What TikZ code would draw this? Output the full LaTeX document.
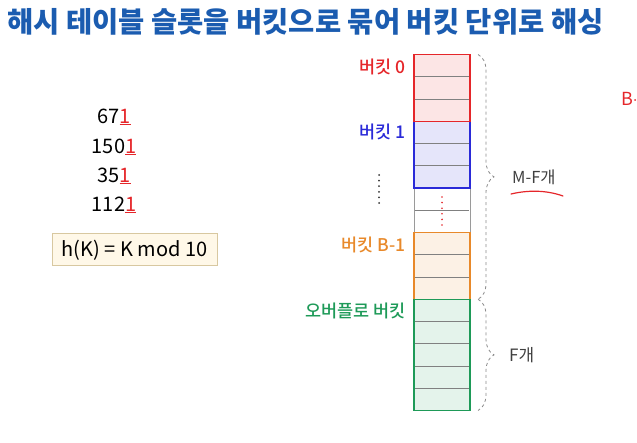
\documentclass[tikz,border=0pt]{standalone}
\usepackage{fontspec}
\setmainfont{Noto Sans CJK KR}
\newfontfamily\labelfont{Noto Sans CJK KR Medium}
\usetikzlibrary{positioning,calc,decorations.pathreplacing}
\definecolor{titleblue}{HTML}{1B5CB0}
\definecolor{bred}{HTML}{E5262A}
\definecolor{bblue}{HTML}{2A2AD8}
\definecolor{borange}{HTML}{E8892A}
\definecolor{bgreen}{HTML}{1E9A58}
\definecolor{bgray}{HTML}{9A9A9A}
\definecolor{slotline}{HTML}{808080}
\definecolor{boxedge}{HTML}{D8C8A0}
\definecolor{boxfill}{HTML}{FFF8E8}
\definecolor{braceg}{HTML}{8A8A8A}
\tikzset{
	bucket/.style 2 args={draw=#1,fill=#1!12,line width=1.3pt,minimum width=56pt,minimum height={#2*22.25pt},inner sep=0pt,outer sep=0pt},
	blabel/.style={font=\fontsize{17.5}{20}\labelfont,anchor=east,inner sep=0pt},
	keytext/.style={font=\fontsize{20}{23}\selectfont,inner sep=0pt},
	cnt/.style={text=black!75,anchor=west,inner sep=0pt},
	slot/.style={draw=slotline,line width=0.8pt,shorten <=0.65pt,shorten >=0.65pt},
	gbrace/.style={decorate,decoration={brace,amplitude=16pt},draw=braceg,dashed,line width=0.8pt}
}
\newcommand{\hashdigit}[1]{{\color{bred}\underline{#1}}}

\begin{document}
\begin{tikzpicture}[x=1pt,y=-1pt]
	\useasboundingbox (0,0) rectangle (637,443);

	\node[anchor=west,text=titleblue,inner sep=0pt,font=\fontsize{28.5}{32}\selectfont\bfseries] (title) at (7,22) {해시 테이블 슬롯을 버킷으로 묶어 버킷 단위로 해싱};

	% keys and hash function
	\foreach \v/\d/\y [count=\i] in {67/1/117, 150/1/147, 35/1/176, 112/1/205}
		\node[keytext] (k\i) at (114,\y) {\v\hashdigit{\d}};
	\node[keytext,draw=boxedge,fill=boxfill,line width=1pt,minimum width=165pt,minimum height=32pt] (hk) at (134.5,250) {h(K) = K mod 10};

	% buckets
	\node[bucket={bgray}{2},fill=white,line width=0.9pt,anchor=north] (bg) at (442,188) {};
	\node[bucket={bblue}{3},above=0pt of bg] (b1) {};
	\node[bucket={bred}{3},above=0pt of b1] (b0) {};
	\node[bucket={borange}{3},below=0pt of bg] (bB) {};
	\node[bucket={bgreen}{5},below=0pt of bB] (bF) {};

	\foreach \b/\n in {b0/3,b1/3,bg/2,bB/3,bF/5}{
		\pgfmathtruncatemacro{\m}{\n-1}
		\foreach \i in {1,...,\m}
			\draw[slot] ($(\b.north west)!\i/\n!(\b.south west)$) -- ($(\b.north east)!\i/\n!(\b.south east)$);
	}

	\node[blabel,text=bred] (l0) at ([xshift=-8pt,yshift=-12pt]b0.north west) {버킷 0};
	\node[blabel,text=bblue] (l1) at ([xshift=-8pt,yshift=-11pt]b1.north west) {버킷 1};
	\node[blabel,text=borange] (lB) at ([xshift=-8pt,yshift=-12pt]bB.north west) {버킷 B-1};
	\node[blabel,text=bgreen] (lF) at ([xshift=-8pt,yshift=-12pt]bF.north west) {오버플로 버킷};

	% vertical dots
	\foreach \k in {0,...,5}
		\fill[black!80] (379,{175+\k*5.6}) circle (1pt);
	\foreach \k in {0,...,5}
		\fill[bred] (442,{197+\k*5.6}) circle (0.9pt);

	% braces
	\draw[gbrace] ([xshift=8pt]b0.north east) -- ([xshift=8pt]bB.south east);
	\draw[gbrace] ([xshift=8pt]bF.north east) -- ([xshift=8pt]bF.south east);
	\node[cnt,font=\fontsize{16.5}{19}\selectfont] (mf) at ([xshift=42pt]$(b0.north east)!0.5!(bB.south east)$) {M-F개};
	\node[cnt,font=\fontsize{17}{20}\selectfont] (f) at ([xshift=39pt]$(bF.north east)!0.5!(bF.south east)$) {F개};

	% handwritten marks
	\draw[bred,line width=1.2pt,line cap=round] (511,194) .. controls (528,190) and (546,190) .. (563,196);
	\node[anchor=west,inner sep=0pt,text=bred,font=\fontsize{18}{20}\selectfont] (hb) at (621,99) {B};
	\fill[bred] (635,100) circle (1pt);
\end{tikzpicture}
\end{document}
